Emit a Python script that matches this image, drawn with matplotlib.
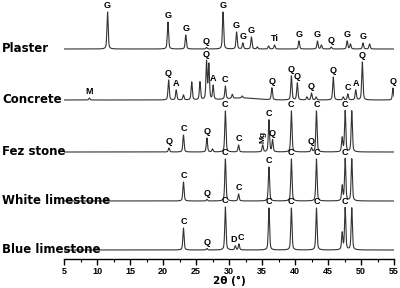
import numpy as np
import matplotlib
matplotlib.use("Agg")
import matplotlib.pyplot as plt

plt.rcParams['font.family'] = ['Liberation Sans', 'DejaVu Sans']

# sample names and vertical offsets of each pattern (bottom to top of the stack)
names = ["Plaster", "Concrete", "Fez stone", "White limestone", "Blue limestone"]
offsets = [210, 159, 107, 58, 9]

# peak positions (2theta), intensities and phase labels
plaster_pos = [11.6, 20.75, 23.45, 26.6, 29.1, 31.15, 32.1, 33.4, 34.3, 36.0, 36.9, 40.6, 43.4, 44.0, 45.5, 47.9, 48.4, 50.3, 51.3]
plaster_int = [37, 27, 14, 1.5, 37, 17, 6, 12, 2, 3, 4, 8, 8, 4, 2, 8, 5, 6, 5]
plaster_lab = ["G", "G", "G", "Q", "G", "G", "G", "G", "", "", "Ti", "G", "G", "", "Q", "G", "", "G", ""]

concrete_pos = [8.85, 20.85, 22.0, 23.1, 24.35, 25.6, 26.6, 26.95, 27.6, 29.45, 30.5, 32.0, 36.5, 39.45, 40.35, 41.8, 42.5, 43.2, 45.8, 47.3, 48.0, 49.2, 50.2, 54.85]
concrete_int = [2, 20, 10, 5, 18, 18, 38, 35, 14, 13, 4, 2, 12, 24, 17, 3, 7, 3, 23, 3, 6, 10, 38, 12]
concrete_lab = ["M", "Q", "A", "", "", "", "Q", "", "A", "C", "", "", "Q", "Q", "Q", "", "Q", "", "Q", "", "C", "A", "Q", "Q"]

fez_pos = [20.9, 23.1, 26.65, 27.5, 29.45, 31.45, 35.1, 36.05, 36.6, 39.45, 42.5, 43.25, 47.15, 47.6, 48.6]
fez_int = [4, 17, 14, 3, 41, 7, 7, 32, 12, 41, 4, 41, 14, 41, 41]
fez_lab = ["Q", "C", "Q", "", "C", "C", "Mg", "C", "Q", "C", "Q", "C", "", "C", ""]

white_pos = [23.1, 26.65, 29.45, 31.45, 36.05, 39.45, 43.25, 47.15, 47.6, 48.6]
white_int = [19, 1.5, 42, 7, 34, 42, 42, 15, 42, 42]
white_lab = ["C", "Q", "C", "C", "C", "C", "C", "", "C", ""]

blue_pos = [23.1, 26.65, 29.45, 30.95, 31.5, 36.05, 39.45, 43.25, 47.15, 47.6, 48.6]
blue_int = [22, 1.5, 43, 4, 6, 42, 42, 42, 17, 42, 42]
blue_lab = ["C", "Q", "C", "D", "C", "C", "C", "C", "", "C", ""]

xticks = [5, 10, 15, 20, 25, 30, 35, 40, 45, 50, 55]


def profile(x, pos, inten, w=0.22):
    y = np.zeros_like(x)
    for p, h in zip(pos, inten):
        d = (x - p) / (w / 2)
        y += h * (0.5 / (1 + d**2) + 0.5 * np.exp(-np.log(2) * d**2))
    return y


fig = plt.figure(figsize=(4, 2.88), dpi=100)
ax = fig.add_axes([64/400, 1 - 259/288, 330/400, 259/288])

x = np.linspace(5, 55, 5001)
data = [(plaster_pos, plaster_int, plaster_lab),
        (concrete_pos, concrete_int, concrete_lab),
        (fez_pos, fez_int, fez_lab),
        (white_pos, white_int, white_lab),
        (blue_pos, blue_int, blue_lab)]

for (pos, inten, lab), off, name in zip(data, offsets, names):
    y = off + profile(x, pos, inten)
    if name == "Concrete":
        # broad amorphous hump
        y += 2 * np.exp(-((x - 32) / 3) ** 2)
    ax.plot(x, y, color="#333333", lw=0.8)
    prev = ""
    for p, l in zip(pos, lab):
        if not l:
            continue
        top = y[np.abs(x - p) < 0.35].max()
        if l == "Mg":
            ax.text(p, top + 1.5, l, rotation=90, ha="center", va="bottom",
                    fontsize=6, fontweight="bold")
        elif l == "D":
            ax.text(p + 0.2, top + 1.5, l, ha="right", va="bottom",
                    fontsize=6.5, fontweight="bold")
        elif prev == "D":
            ax.text(p - 0.15, top + 1.5, l, ha="left", va="bottom",
                    fontsize=6.5, fontweight="bold")
        else:
            ax.text(p, top + 1.5, l, ha="center", va="bottom",
                    fontsize=6.5, fontweight="bold")
        prev = l
    ax.text(-4.4, off - 3, name, ha="left", va="baseline", fontsize=8.5,
            fontweight="bold", family="DejaVu Sans", clip_on=False)

ax.set_xlim(5, 55)
ax.set_ylim(0, 259)
ax.set_xticks(xticks)
ax.set_xticks(np.arange(7.5, 55, 5), minor=True)
ax.set_yticks([])
for s in ["left", "right", "top"]:
    ax.spines[s].set_visible(False)
ax.spines["bottom"].set_linewidth(1.0)
ax.tick_params(axis="x", which="major", length=4, width=1, labelsize=6.5, pad=2)
ax.tick_params(axis="x", which="minor", length=2.5, width=0.8)
for t in ax.get_xticklabels():
    t.set_fontweight("bold")
ax.set_xlabel("2θ (°)", fontsize=7.5, fontweight="bold", labelpad=0,
              family="DejaVu Sans")

fig.savefig("out.png", dpi=100)
